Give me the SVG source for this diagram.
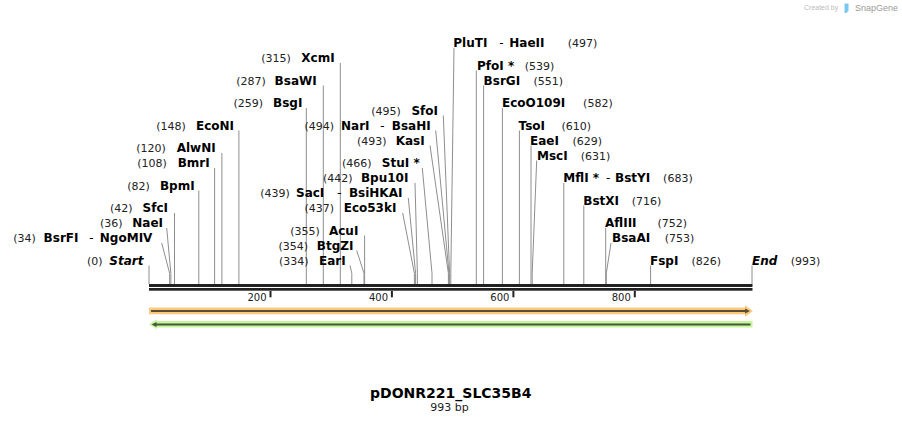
<svg xmlns="http://www.w3.org/2000/svg" width="902" height="423" viewBox="0 0 902 423">
<style>
text{font-family:"DejaVu Sans",Verdana,sans-serif}
.n{font-size:12px;font-weight:bold;fill:#000}
.i{font-style:italic}
.p{font-size:11px;fill:#222}
.h{font-size:12px;font-weight:normal;fill:#000}
.e{text-anchor:end}
.tk{font-size:10px;fill:#222;text-anchor:end}
#connectors path{fill:none;stroke:#8e8e8e;stroke-width:1}
.tick{fill:#222}
</style>
<rect width="902" height="423" fill="#fff"/>

<!-- logo -->
<g id="logo">
<text x="804" y="10" style="font-family:'Liberation Sans',Arial,sans-serif;font-size:7px;fill:#bbb">Created by</text>
<path d="M844.5,3.5 h4 v7 l-2,2.5 h-2 z" fill="#7cc7f2"/>
<text x="855" y="11" style="font-family:'Liberation Sans',Arial,sans-serif;font-size:9px;fill:#9a9a9a">SnapGene</text>
</g>

<!-- connectors -->
<g id="connectors">
<path d="M149,265.5V284"/>
<path d="M161.7,243L169.65,273.3V284"/>
<path d="M166.7,228L170.86,273.3V284"/>
<path d="M174.5,213V284"/>
<path d="M198.8,190.5V284"/>
<path d="M214.6,168V284"/>
<path d="M221.9,153V284"/>
<path d="M238.9,130.5V284"/>
<path d="M306.3,108V284"/>
<path d="M323.3,85.5V284"/>
<path d="M340.3,63V284"/>
<path d="M350,265.5L351.8,273.3V284"/>
<path d="M356.7,250.5L364,273.3V284"/>
<path d="M364.6,235.5V284"/>
<path d="M402.7,213L414.4,273.3V284"/>
<path d="M408.3,198L415.6,273.3V284"/>
<path d="M415,183L417.4,273.3V284"/>
<path d="M422.3,168L432,273.3V284"/>
<path d="M430,145.5L448.4,273.3V284"/>
<path d="M435.7,130.5L449,273.3V284"/>
<path d="M443.3,115.5L449.6,273.3V284"/>
<path d="M454,48L450.8,273.3V284"/>
<path d="M476.3,70.5V284"/>
<path d="M483.6,85.5V284"/>
<path d="M502.4,108V284"/>
<path d="M519.4,130.5V284"/>
<path d="M531,145.5V284"/>
<path d="M536.7,160.5L532.2,273.3V284"/>
<path d="M563.8,183V284"/>
<path d="M583.8,205.5V284"/>
<path d="M605.7,228V284"/>
<path d="M611,243L606.3,273.3V284"/>
<path d="M650.6,265.5V284"/>
<path d="M752,265.5V284"/>
</g>

<!-- ruler -->
<g id="ruler">
<rect x="149" y="284" width="603.5" height="3" fill="#222"/>
<rect x="149" y="288" width="603.5" height="2.7" fill="#222"/>
<rect class="tick" x="269.5" y="291" width="2" height="6.3"/>
<rect class="tick" x="390.9" y="291" width="2" height="6.3"/>
<rect class="tick" x="512.4" y="291" width="2" height="6.3"/>
<rect class="tick" x="633.8" y="291" width="2" height="6.3"/>
<text class="tk" x="266.5" y="300.7">200</text>
<text class="tk" x="388" y="300.7">400</text>
<text class="tk" x="509.4" y="300.7">600</text>
<text class="tk" x="630.8" y="300.7">800</text>
</g>

<!-- features -->
<g id="feature-forward">
<path d="M149,307.5H745V305.3L753,311L745,316.7V314.3H149Z" fill="#f9c97c"/>
<path d="M151,311.1H746" stroke="#5a4c38" stroke-width="2" fill="none"/>
<path d="M745,308.6L750,311.1L745,313.6Z" fill="#5a4c38"/>
</g>
<g id="feature-reverse">
<path d="M752.5,321H157V319.2L149,324.2L157,329.2V327.4H752.5Z" fill="#c6f79b"/>
<path d="M155,324.4H750.5" stroke="#45593c" stroke-width="2" fill="none"/>
<path d="M156.5,321.9L151.5,324.4L156.5,326.9Z" fill="#45593c"/>
</g>

<!-- left labels -->
<g id="start"><text class="p e" x="102.5" y="264.5">(0)</text><text class="n i e" x="143.5" y="264.5">Start</text></g>
<g id="bsrfi"><text class="p e" x="35.8" y="242">(34)</text><text class="n" x="43.6" y="242">BsrFI</text><text class="h" x="89.3" y="242">-</text><text class="n e" x="152.4" y="242">NgoMIV</text></g>
<g id="naei"><text class="p e" x="122.5" y="227">(36)</text><text class="n e" x="163" y="227">NaeI</text></g>
<g id="sfci"><text class="p e" x="132.5" y="212">(42)</text><text class="n e" x="168" y="212">SfcI</text></g>
<g id="bpmi"><text class="p e" x="149.8" y="189.5">(82)</text><text class="n e" x="194.7" y="189.5">BpmI</text></g>
<g id="bmri"><text class="p e" x="166.8" y="167">(108)</text><text class="n e" x="209.7" y="167">BmrI</text></g>
<g id="alwni"><text class="p e" x="165.8" y="152">(120)</text><text class="n e" x="215.7" y="152">AlwNI</text></g>
<g id="econi"><text class="p e" x="185.8" y="129.5">(148)</text><text class="n e" x="234" y="129.5">EcoNI</text></g>
<g id="bsgi"><text class="p e" x="263.1" y="107">(259)</text><text class="n e" x="302.4" y="107">BsgI</text></g>
<g id="bsawi"><text class="p e" x="265.8" y="84.5">(287)</text><text class="n e" x="316.7" y="84.5">BsaWI</text></g>
<g id="xcmi"><text class="p e" x="290.8" y="62">(315)</text><text class="n e" x="334.7" y="62">XcmI</text></g>
<g id="eari"><text class="p e" x="308.5" y="264.5">(334)</text><text class="n e" x="345.7" y="264.5">EarI</text></g>
<g id="btgzi"><text class="p e" x="308.1" y="249.5">(354)</text><text class="n e" x="353.4" y="249.5">BtgZI</text></g>
<g id="acui"><text class="p e" x="319.8" y="234.5">(355)</text><text class="n e" x="358.4" y="234.5">AcuI</text></g>
<g id="eco53ki"><text class="p e" x="334.1" y="212">(437)</text><text class="n e" x="396.4" y="212">Eco53kI</text></g>
<g id="saci"><text class="p e" x="289.8" y="197">(439)</text><text class="n" x="296" y="197">SacI</text><text class="h" x="337.3" y="197">-</text><text class="n e" x="402.4" y="197">BsiHKAI</text></g>
<g id="bpu10i"><text class="p e" x="352.5" y="182">(442)</text><text class="n e" x="408.4" y="182">Bpu10I</text></g>
<g id="stui"><text class="p e" x="371.5" y="167">(466)</text><text class="n e" x="419.7" y="167">StuI *</text></g>
<g id="kasi"><text class="p e" x="386.5" y="144.5">(493)</text><text class="n e" x="424.7" y="144.5">KasI</text></g>
<g id="nari"><text class="p e" x="334.1" y="129.5">(494)</text><text class="n" x="341" y="129.5">NarI</text><text class="h" x="380.3" y="129.5">-</text><text class="n e" x="430.7" y="129.5">BsaHI</text></g>
<g id="sfoi"><text class="p e" x="400.8" y="114.5">(495)</text><text class="n e" x="438" y="114.5">SfoI</text></g>

<!-- right labels -->
<g id="pluti"><text class="n" x="453.3" y="47">PluTI</text><text class="h" x="499.3" y="47">-</text><text class="n" x="509.3" y="47">HaeII</text><text class="p" x="567.8" y="47">(497)</text></g>
<g id="pfoi"><text class="n" x="477" y="69.5">PfoI *</text><text class="p" x="524.8" y="69.5">(539)</text></g>
<g id="bsrgi"><text class="n" x="483.6" y="84.5">BsrGI</text><text class="p" x="533.4" y="84.5">(551)</text></g>
<g id="ecoo109i"><text class="n" x="502" y="107">EcoO109I</text><text class="p" x="583.1" y="107">(582)</text></g>
<g id="tsoi"><text class="n" x="518.6" y="129.5">TsoI</text><text class="p" x="561.4" y="129.5">(610)</text></g>
<g id="eaei"><text class="n" x="530" y="144.5">EaeI</text><text class="p" x="572.4" y="144.5">(629)</text></g>
<g id="msci"><text class="n" x="537" y="159.5">MscI</text><text class="p" x="580.8" y="159.5">(631)</text></g>
<g id="mfli"><text class="n" x="563.3" y="182">MflI *</text><text class="h" x="606" y="182">-</text><text class="n" x="615" y="182">BstYI</text><text class="p" x="663.1" y="182">(683)</text></g>
<g id="bstxi"><text class="n" x="583.3" y="204.5">BstXI</text><text class="p" x="631.8" y="204.5">(716)</text></g>
<g id="afliii"><text class="n" x="605" y="227">AflIII</text><text class="p" x="657.4" y="227">(752)</text></g>
<g id="bsaai"><text class="n" x="612" y="242">BsaAI</text><text class="p" x="664.8" y="242">(753)</text></g>
<g id="fspi"><text class="n" x="650" y="264.5">FspI</text><text class="p" x="691.4" y="264.5">(826)</text></g>
<g id="end"><text class="n i" x="752" y="264.5">End</text><text class="p" x="790.8" y="264.5">(993)</text></g>

<!-- title -->
<g id="title">
<text x="450.8" y="398.3" text-anchor="middle" style="font-size:14px;font-weight:bold;fill:#000">pDONR221_SLC35B4</text>
<text x="449.5" y="410.5" text-anchor="middle" style="font-size:11px;fill:#222">993 bp</text>
</g>
</svg>
